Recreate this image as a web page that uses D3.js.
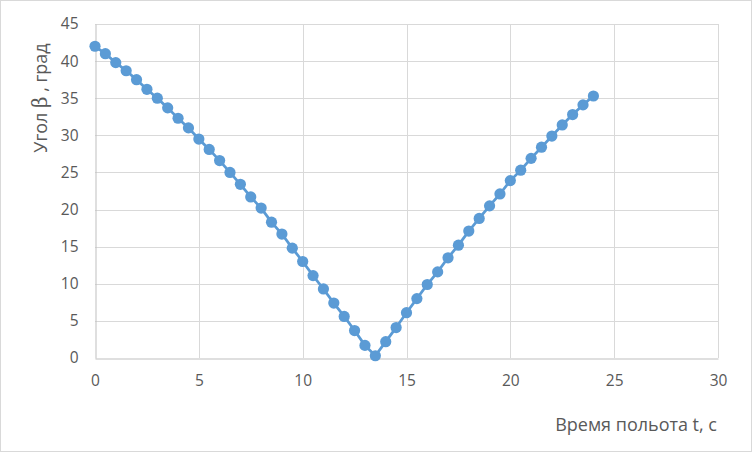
<!DOCTYPE html>
<html>
<head>
<meta charset="utf-8">
<script src="https://cdn.jsdelivr.net/npm/d3@7"></script>
<style>
  html, body { margin: 0; padding: 0; background: #fff; }
  svg { display: block; }
  text { font-family: "Open Sans", sans-serif; fill: #595959; }
</style>
</head>
<body>
<svg id="chart" width="752" height="452"></svg>
<script>
const times = [0,0.5,1,1.5,2,2.5,3,3.5,4,4.5,5,5.5,6,6.5,7,7.5,8,8.5,9,9.5,10,10.5,11,11.5,12,12.5,13,13.5,14,14.5,15,15.5,16,16.5,17,17.5,18,18.5,19,19.5,20,20.5,21,21.5,22,22.5,23,23.5,24];
const angles = [42.0,41.0,39.8,38.7,37.5,36.2,35.0,33.7,32.3,31.0,29.5,28.1,26.6,25.0,23.4,21.7,20.2,18.3,16.7,14.8,13.0,11.1,9.3,7.4,5.6,3.7,1.7,0.3,2.2,4.1,6.1,8.0,9.9,11.6,13.5,15.2,17.1,18.8,20.5,22.1,23.9,25.3,26.9,28.4,29.9,31.4,32.8,34.1,35.3];
const xTicks = [0,5,10,15,20,25,30];
const yTicks = [0,5,10,15,20,25,30,35,40,45];
const xTitle = "Время польота t, с";
const yTitleParts = ["Угол ", "β", " , град"];

(function () {
const svg = d3.select("#chart");
const W = 752, H = 452;
const pLeft = 95, pRight = 718, pTop = 24, pBottom = 358;

svg.append("rect").attr("x", 0.5).attr("y", 0.5).attr("width", W - 1).attr("height", H - 1)
  .attr("fill", "#fff").attr("stroke", "#d9d9d9");

const x = d3.scaleLinear().domain([0, 30]).range([pLeft, pRight]);
const y = d3.scaleLinear().domain([0, 45]).range([pBottom, pTop]);

// grid
const grid = svg.append("g");
grid.selectAll("line.h").data(yTicks.filter(d => d > 0)).join("line")
  .attr("x1", pLeft).attr("x2", pRight)
  .attr("y1", d => Math.round(y(d)) + 0.5).attr("y2", d => Math.round(y(d)) + 0.5)
  .attr("stroke", "#d9d9d9").attr("stroke-width", 1);
grid.selectAll("line.v").data(xTicks.filter(d => d > 0)).join("line")
  .attr("y1", pTop).attr("y2", pBottom)
  .attr("x1", d => Math.round(x(d)) + 0.5).attr("x2", d => Math.round(x(d)) + 0.5)
  .attr("stroke", "#d9d9d9").attr("stroke-width", 1);

// axes
const xAxis = d3.axisBottom(x).tickValues(xTicks).tickSize(0).tickPadding(16);
const yAxis = d3.axisLeft(y).tickValues(yTicks).tickSize(0).tickPadding(17);
const gx = svg.append("g").attr("transform", `translate(0,${Math.round(pBottom) + 0.5})`).call(xAxis);
const gy = svg.append("g").attr("transform", `translate(${Math.round(pLeft) + 0.5},0)`).call(yAxis);
[gx, gy].forEach(g => {
  g.select(".domain").attr("stroke", "#bfbfbf").attr("stroke-width", 1);
  g.selectAll("text").attr("font-family", "'Open Sans', sans-serif").attr("font-size", 15.5).attr("fill", "#595959");
});

// line
const pts = times.map((t, i) => [t, angles[i]]);
svg.append("path").datum(pts)
  .attr("fill", "none").attr("stroke", "#5b9bd5").attr("stroke-width", 2.75)
  .attr("stroke-linejoin", "round")
  .attr("d", d3.line().x(d => x(d[0])).y(d => y(d[1])));
svg.append("g").selectAll("circle").data(pts).join("circle")
  .attr("cx", d => x(d[0])).attr("cy", d => y(d[1])).attr("r", 5.6)
  .attr("fill", "#5b9bd5");

// titles
svg.append("text").attr("x", 717).attr("y", 431).attr("text-anchor", "end")
  .attr("font-size", 18).text(xTitle);
const yt = svg.append("text").attr("transform", "translate(47,98) rotate(-90)")
  .attr("text-anchor", "middle").attr("font-size", 18);
yt.append("tspan").text(yTitleParts[0]);
yt.append("tspan").attr("font-family", "'DejaVu Serif', 'Liberation Serif', serif").attr("font-size", 20).text(yTitleParts[1]);
yt.append("tspan").text(yTitleParts[2]);
})();
</script>
</body>
</html>
